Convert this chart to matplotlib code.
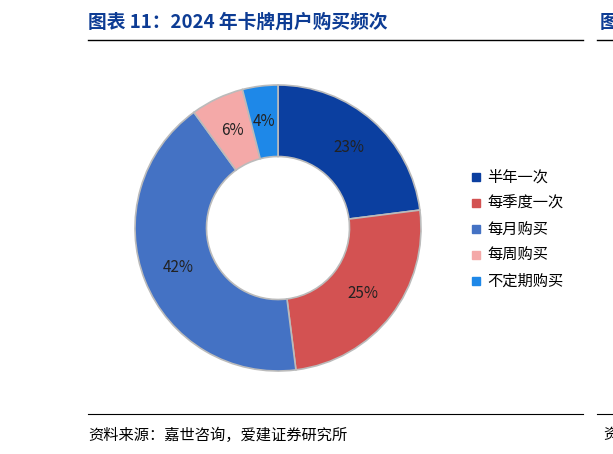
import matplotlib
matplotlib.use("Agg")
import matplotlib.pyplot as plt
from matplotlib.patches import Rectangle

plt.rcParams["font.family"] = ["Noto Sans CJK SC", "DejaVu Sans"]

categories = ["半年一次", "每季度一次", "每月购买", "每周购买", "不定期购买"]
values = [23, 25, 42, 6, 4]
labels = ["23%", "25%", "42%", "6%", "4%"]
colors = ["#0b3fa0", "#d35252", "#4472c4", "#f4a9a8", "#1e88e8"]

W, H = 613, 454
fig = plt.figure(figsize=(W/100, H/100), dpi=100)

fig.text(88/W, 1-22/H, "图表 11：2024 年卡牌用户购买频次", color="#0d3c94",
         fontsize=13.5, fontweight="bold", va="center", ha="left")
fig.text(600/W, 1-22/H, "图", color="#0d3c94", fontsize=13.5, fontweight="bold", va="center", ha="left")
fig.add_artist(plt.Line2D([88/W, 583/W], [1-40/H, 1-40/H], color="black", lw=1))
fig.add_artist(plt.Line2D([597/W, 1], [1-40/H, 1-40/H], color="black", lw=1))
fig.add_artist(plt.Line2D([88/W, 583/W], [1-414/H, 1-414/H], color="black", lw=0.8))
fig.add_artist(plt.Line2D([597/W, 1], [1-414/H, 1-414/H], color="black", lw=0.8))
fig.text(88/W, 1-435/H, "资料来源：嘉世咨询，爱建证券研究所", fontsize=11, va="center", ha="left")
fig.text(603/W, 1-435/H, "资", fontsize=11, va="center", ha="left")

cx, cy, r = 278, 228, 143
ax = fig.add_axes([(cx-r)/W, (H-cy-r)/H, 2*r/W, 2*r/H])
wedges, texts = ax.pie(values, colors=colors, startangle=90, counterclock=False,
                       labels=labels, labeldistance=0.75,
                       wedgeprops=dict(width=0.5, edgecolor="#bbbbbb", linewidth=1.2),
                       textprops=dict(fontsize=11, color="#222222", ha="center", va="center"))
for t in texts:
    t.set_ha("center"); t.set_va("center")
ax.set_xlim(-1, 1); ax.set_ylim(-1, 1)
ax.set_aspect("equal")
ax.axis("off")

lx, ly0, dy = 476, 177, 26
for i, (c, col) in enumerate(zip(categories, colors)):
    y = ly0 + i*dy
    fig.add_artist(Rectangle(((lx-4)/W, 1-(y+4)/H), 8/W, 8/H, color=col, transform=fig.transFigure))
    fig.text((lx+11)/W, 1-y/H, c, fontsize=11, va="center", ha="left")

fig.savefig("out.png", dpi=100)
